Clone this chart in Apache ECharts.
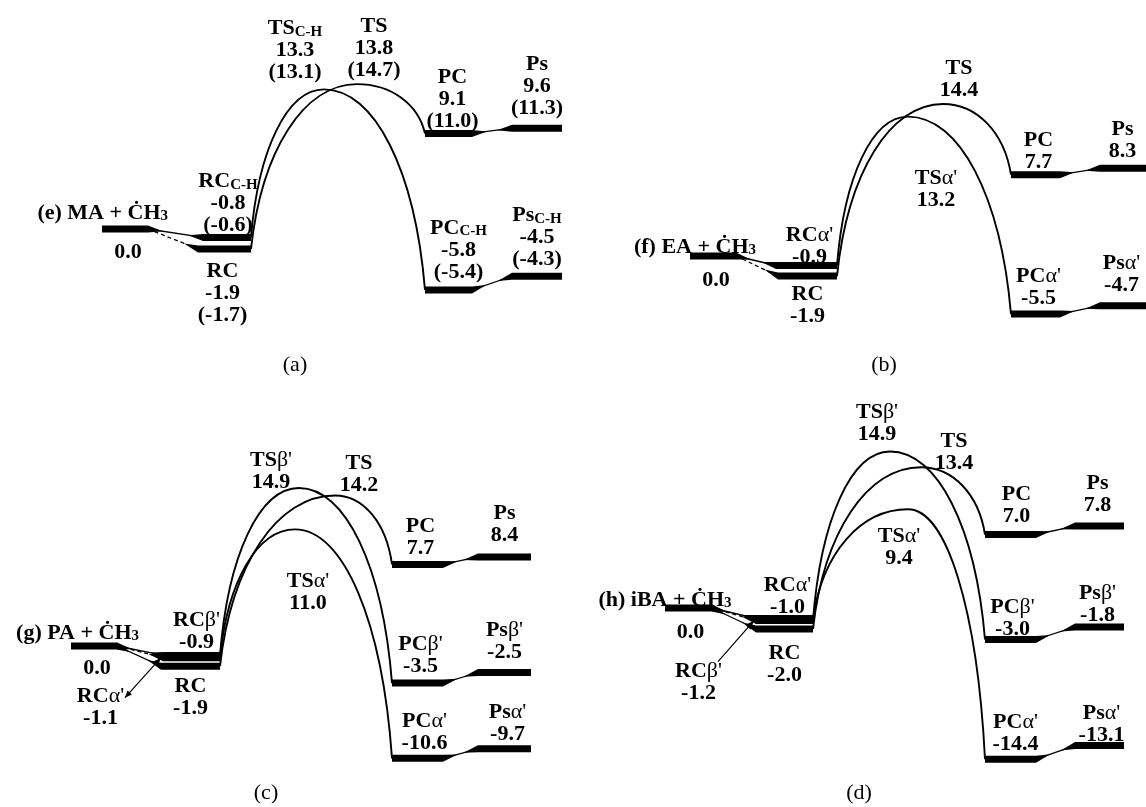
<!DOCTYPE html>
<html>
<head>
<meta charset="utf-8">
<script src="https://cdn.jsdelivr.net/npm/echarts@6/dist/echarts.min.js"></script>
<style>
  html, body { margin: 0; padding: 0; background: #fff; }
  #chart { width: 1146px; height: 807px; }
</style>
</head>
<body>
<div id="chart"></div>
<script>
// Relative energies (kcal/mol) of the CH3 addition / H-abstraction pathways.
// Level keys: R = separated reactants, RC = reactant complex, TS = transition state,
// PC = product complex, Ps = separated products.

// (e) MA + CH3
const maLevels  = ['R', 'RC_CH', 'RC', 'TS_CH', 'TS', 'PC', 'Ps', 'PC_CH', 'Ps_CH'];
const maNames   = ['{b|(e) MA + ĊH}{s|3}', '{b|RC}{s|C-H}', '{b|RC}', '{b|TS}{s|C-H}', '{b|TS}', '{b|PC}', '{b|Ps}', '{b|PC}{s|C-H}', '{b|Ps}{s|C-H}'];
const maEnergy  = [0.0, -0.8, -1.9, 13.3, 13.8, 9.1, 9.6, -5.8, -4.5];
const maEnergy2 = [null, -0.6, -1.7, 13.1, 14.7, 11.0, 11.3, -5.4, -4.3];
const maPaths   = [['RC_CH', 'TS_CH', 'PC_CH', 'Ps_CH'], ['RC', 'TS', 'PC', 'Ps']];
const maEntry   = [['RC_CH', 'solid'], ['RC', 'dashed']];

// (f) EA + CH3
const eaLevels = ['R', 'RC_a', 'RC', 'TS_a', 'TS', 'PC', 'Ps', 'PC_a', 'Ps_a'];
const eaNames  = ['{b|(f) EA + ĊH}{s|3}', "{b|RC}{g|α'}", '{b|RC}', "{b|TS}{g|α'}", '{b|TS}', '{b|PC}', '{b|Ps}', "{b|PC}{g|α'}", "{b|Ps}{g|α'}"];
const eaEnergy = [0.0, -0.9, -1.9, 13.2, 14.4, 7.7, 8.3, -5.5, -4.7];
const eaPaths  = [['RC_a', 'TS_a', 'PC_a', 'Ps_a'], ['RC', 'TS', 'PC', 'Ps']];
const eaEntry  = [['RC_a', 'solid'], ['RC', 'dashed']];

// (g) PA + CH3
const paLevels = ['R', 'RC_b', 'RC_a', 'RC', 'TS_b', 'TS', 'TS_a', 'PC', 'Ps', 'PC_b', 'Ps_b', 'PC_a', 'Ps_a'];
const paNames  = ['{b|(g) PA + ĊH}{s|3}', "{b|RC}{g|β'}", "{b|RC}{g|α'}", '{b|RC}', "{b|TS}{g|β'}", '{b|TS}', "{b|TS}{g|α'}",
                  '{b|PC}', '{b|Ps}', "{b|PC}{g|β'}", "{b|Ps}{g|β'}", "{b|PC}{g|α'}", "{b|Ps}{g|α'}"];
const paEnergy = [0.0, -0.9, -1.1, -1.9, 14.9, 14.2, 11.0, 7.7, 8.4, -3.5, -2.5, -10.6, -9.7];
const paPaths  = [['RC_b', 'TS_b', 'PC_b', 'Ps_b'], ['RC', 'TS', 'PC', 'Ps'], ['RC_a', 'TS_a', 'PC_a', 'Ps_a']];
const paEntry  = [['RC_b', 'solid'], ['RC_a', 'dashed'], ['RC', 'solid']];

// (h) iBA + CH3
const ibaLevels = ['R', 'RC_a', 'RC_b', 'RC', 'TS_b', 'TS', 'TS_a', 'PC', 'Ps', 'PC_b', 'Ps_b', 'PC_a', 'Ps_a'];
const ibaNames  = ['{b|(h) iBA + ĊH}{s|3}', "{b|RC}{g|α'}", "{b|RC}{g|β'}", '{b|RC}', "{b|TS}{g|β'}", '{b|TS}', "{b|TS}{g|α'}",
                   '{b|PC}', '{b|Ps}', "{b|PC}{g|β'}", "{b|Ps}{g|β'}", "{b|PC}{g|α'}", "{b|Ps}{g|α'}"];
const ibaEnergy = [0.0, -1.0, -1.2, -2.0, 14.9, 13.4, 9.4, 7.0, 7.8, -3.0, -1.8, -14.4, -13.1];
const ibaPaths  = [['RC_b', 'TS_b', 'PC_b', 'Ps_b'], ['RC', 'TS', 'PC', 'Ps'], ['RC_a', 'TS_a', 'PC_a', 'Ps_a']];
const ibaEntry  = [['RC_a', 'solid'], ['RC_b', 'dashed'], ['RC', 'solid']];

const captions = ['(a)', '(b)', '(c)', '(d)'];

// ---- Layout: panel placement, level columns along the reaction coordinate, label offsets ----
const layouts = [
  { left: 0, zeroY: 229, ppu: 10.5, cap: [295, 365],
    cols: { R: [102, 148], RC_CH: [203, 251], RC: [198, 251], PC: [425, 472], PC_CH: [425, 472], Ps: [512, 562], Ps_CH: [512, 562] },
    peaks: { TS_CH: 324, TS: 357 },
    lab: { R: { title: [43, -16], value: [3, 23] }, RC_CH: [1, -34], RC: [-2, 44], TS_CH: [-29, -39], TS: [17, -36],
           PC: [4, -34], Ps: [0, -42], PC_CH: [10, -40], Ps_CH: [0, -39] } },
  { left: 573, zeroY: 256, ppu: 10.56, cap: [884, 365],
    cols: { R: [117, 163], RC_a: [203, 264], RC: [205, 264], PC: [438, 487], PC_a: [438, 487], Ps: [527, 574], Ps_a: [527, 574] },
    peaks: { TS_a: 335, TS: 370 },
    lab: { R: { title: [43, -9], value: [3, 24] }, RC_a: [3, -19], RC: [0, 29], TS: [16, -25], TS_a: [28, 73],
           PC: [3, -23], Ps: [-1, -28], PC_a: [3, -27], Ps_a: [-2, -31] } },
  { left: 0, zeroY: 646, ppu: 10.6, cap: [266, 793],
    cols: { R: [71, 117], RC_b: [165, 220], RC_a: [163, 220], RC: [161, 220], PC: [392, 443], PC_b: [392, 443], PC_a: [392, 443],
            Ps: [478, 531], Ps_b: [478, 531], Ps_a: [478, 531] },
    peaks: { TS_b: 299, TS: 335, TS_a: 295 },
    lab: { R: { title: [45, -13], value: [3, 22] }, RC_b: [4, -24], RC_a: [-91, 50], RC: [0, 31], TS_b: [-28, -17], TS: [24, -21],
           TS_a: [13, 63], PC: [3, -27], Ps: [0, -33], PC_b: [3, -28], Ps_b: [0, -31], PC_a: [7, -26], Ps_a: [3, -26] },
    arrow: { lv: 'RC_a', from: [-36, 40], both: true } },
  { left: 573, zeroY: 608, ppu: 10.5, cap: [859, 793],
    cols: { R: [92, 139], RC_a: [183, 240], RC_b: [183, 240], RC: [183, 240], PC: [412, 463], PC_b: [412, 463], PC_a: [412, 463],
            Ps: [502, 551], Ps_b: [502, 551], Ps_a: [502, 551] },
    peaks: { TS_b: 317, TS: 348, TS_a: 335 },
    lab: { R: { title: [43, -8], value: [2, 24] }, RC_a: [3, -22], RC_b: [-86, 62], RC: [0, 35], TS_b: [-13, -28], TS: [33, -15],
           TS_a: [-9, 38], PC: [6, -29], Ps: [-2, -32], PC_b: [2, -21], Ps_b: [-2, -23], PC_a: [5, -26], Ps_a: [2, -21] },
    arrow: { lv: 'RC_b', from: [-36, 41], both: false } }
];

const panels = [
  { levels: maLevels, names: maNames, energy: maEnergy, energy2: maEnergy2, paths: maPaths, entry: maEntry },
  { levels: eaLevels, names: eaNames, energy: eaEnergy, energy2: null, paths: eaPaths, entry: eaEntry },
  { levels: paLevels, names: paNames, energy: paEnergy, energy2: null, paths: paPaths, entry: paEntry },
  { levels: ibaLevels, names: ibaNames, energy: ibaEnergy, energy2: null, paths: ibaPaths, entry: ibaEntry }
];

// ---- Styles ----
const SERIF = '"Liberation Serif", "Times New Roman", serif';
const BAR = 7;          // level bar thickness
const WEDGE = 15;       // taper length where a connector leaves/enters a bar
const RICH = {
  b: { fontFamily: SERIF, fontWeight: 'bold', fontSize: 22, lineHeight: 22, fill: '#000', align: 'center' },
  s: { fontFamily: SERIF, fontWeight: 'bold', fontSize: 15, lineHeight: 8, verticalAlign: 'bottom', fill: '#000', align: 'center' },
  g: { fontFamily: SERIF, fontWeight: 'normal', fontSize: 22, lineHeight: 22, fill: '#000', align: 'center' }
};

function head(tip, from, len, half) {
  const dx = tip[0] - from[0], dy = tip[1] - from[1];
  const l = Math.hypot(dx, dy), ux = dx / l, uy = dy / l;
  const bx = tip[0] - ux * len, by = tip[1] - uy * len;
  return { type: 'polygon', shape: { points: [tip, [bx - uy * half, by + ux * half], [bx + uy * half, by - ux * half]] },
           style: { fill: '#000' } };
}

function buildPanel(i, d, L) {
  const E = n => d.energy[d.levels.indexOf(n)];
  const items = [];
  d.entry.forEach(([to, dash]) => items.push({ t: 'link', from: 'R', to, dash: dash === 'dashed' }));
  d.paths.forEach(([rc, ts, pc, ps]) => {
    items.push({ t: 'arc', rc, ts, pc });
    items.push({ t: 'link', from: pc, to: ps, dash: false });
  });
  Object.keys(L.cols).forEach(lv => items.push({ t: 'bar', lv }));
  if (L.arrow) items.push({ t: 'arrow' });
  d.levels.forEach(lv => items.push({ t: 'label', lv }));

  function renderItem(params, api) {
    const it = items[params.dataIndex];
    if (it.t === 'bar') {
      const c = L.cols[it.lv];
      const p0 = api.coord([c[0], E(it.lv)]), p1 = api.coord([c[1], E(it.lv)]);
      return { type: 'rect', shape: { x: p0[0], y: p0[1] - BAR / 2, width: p1[0] - p0[0], height: BAR },
               style: { fill: '#000' } };
    }
    if (it.t === 'link') {
      const A = api.coord([L.cols[it.from][1], E(it.from)]);
      const B = api.coord([L.cols[it.to][0], E(it.to)]);
      const dx = B[0] - A[0], dy = B[1] - A[1], l = Math.hypot(dx, dy), ux = dx / l, uy = dy / l;
      const children = [
        { type: 'line', shape: { x1: A[0], y1: A[1], x2: B[0], y2: B[1] },
          style: { stroke: '#000', lineWidth: 1.3, lineDash: it.dash ? [4, 3] : null } },
        { type: 'polygon', shape: { points: [[B[0], B[1] - BAR / 2], [B[0], B[1] + BAR / 2], [B[0] - ux * WEDGE, B[1] - uy * WEDGE]] },
          style: { fill: '#000' } }
      ];
      if (!it.dash) {
        children.push({ type: 'polygon', shape: { points: [[A[0], A[1] - BAR / 2], [A[0], A[1] + BAR / 2], [A[0] + ux * WEDGE, A[1] + uy * WEDGE]] },
                        style: { fill: '#000' } });
      }
      return { type: 'group', children };
    }
    if (it.t === 'arc') {
      const S = api.coord([L.cols[it.rc][1], E(it.rc)]);
      const P = api.coord([L.peaks[it.ts], E(it.ts)]);
      const F = api.coord([L.cols[it.pc][0], E(it.pc)]);
      const st = { stroke: '#000', lineWidth: 1.9, fill: 'none' };
      return { type: 'group', children: [
        { type: 'bezierCurve', shape: { x1: S[0], y1: S[1], x2: P[0], y2: P[1],
            cpx1: S[0] + 0.1 * (P[0] - S[0]), cpy1: S[1] + 0.6 * (P[1] - S[1]),
            cpx2: P[0] - 0.5 * (P[0] - S[0]), cpy2: P[1] }, style: st },
        { type: 'bezierCurve', shape: { x1: P[0], y1: P[1], x2: F[0], y2: F[1],
            cpx1: P[0] + 0.5 * (F[0] - P[0]), cpy1: P[1],
            cpx2: F[0] - 0.1 * (F[0] - P[0]), cpy2: F[1] + 0.6 * (P[1] - F[1]) }, style: st }
      ] };
    }
    if (it.t === 'arrow') {
      const a = L.arrow;
      const tip = api.coord([L.cols[a.lv][0], E(a.lv)]);
      tip[0] -= 2;
      const tail = [tip[0] + a.from[0], tip[1] + a.from[1]];
      const children = [
        { type: 'line', shape: { x1: tail[0], y1: tail[1], x2: tip[0], y2: tip[1] }, style: { stroke: '#000', lineWidth: 1.2 } },
        head(tip, tail, 9, 3.5)
      ];
      if (a.both) children.push(head(tail, tip, 7, 3));
      return { type: 'group', children };
    }
    if (it.t === 'label') {
      const k = d.levels.indexOf(it.lv);
      const e = d.energy[k];
      const isPeak = L.peaks[it.lv] !== undefined;
      const x = isPeak ? L.peaks[it.lv] : (L.cols[it.lv][0] + L.cols[it.lv][1]) / 2;
      const p = api.coord([x, e]);
      const base = { rich: RICH, fill: '#000', font: 'bold 22px ' + SERIF, lineHeight: 22, verticalAlign: 'middle' };
      if (it.lv === 'R') {
        const o = L.lab.R;
        return { type: 'group', children: [
          { type: 'text', x: p[0] + o.title[0], y: p[1] + o.title[1],
            style: Object.assign({}, base, { text: d.names[k], align: 'right' }) },
          { type: 'text', x: p[0] + o.value[0], y: p[1] + o.value[1],
            style: Object.assign({}, base, { text: '{b|' + e.toFixed(1) + '}', align: 'center' }) }
        ] };
      }
      const lines = [d.names[k], '{b|' + e.toFixed(1) + '}'];
      if (d.energy2 && d.energy2[k] !== null) lines.push('{b|(' + d.energy2[k].toFixed(1) + ')}');
      const o = L.lab[it.lv];
      return { type: 'text', x: p[0] + o[0], y: p[1] + o[1],
               style: Object.assign({}, base, { text: lines.join('\n'), align: 'center' }) };
    }
    return null;
  }

  return {
    grid: { left: L.left, width: 573, top: L.zeroY - 16 * L.ppu, height: 31 * L.ppu, outerBoundsMode: 'none' },
    xAxis: { type: 'value', gridIndex: i, min: 0, max: 573, show: false },
    yAxis: { type: 'value', gridIndex: i, min: -15, max: 16, show: false },
    series: { type: 'custom', xAxisIndex: i, yAxisIndex: i, silent: true, clip: false, animation: false,
              data: items.map((_, k) => [k, 0]), renderItem }
  };
}

const built = panels.map((d, i) => buildPanel(i, d, layouts[i]));
const chart = echarts.init(document.getElementById('chart'), null, { renderer: 'canvas' });
chart.setOption({
  backgroundColor: '#fff',
  animation: false,
  grid: built.map(b => b.grid),
  xAxis: built.map(b => b.xAxis),
  yAxis: built.map(b => b.yAxis),
  series: built.map(b => b.series),
  graphic: captions.map((c, i) => ({
    type: 'text', x: layouts[i].cap[0], y: layouts[i].cap[1], silent: true,
    style: { text: c, font: '22px ' + SERIF, fill: '#000', align: 'center', verticalAlign: 'middle' }
  }))
});
</script>
</body>
</html>
